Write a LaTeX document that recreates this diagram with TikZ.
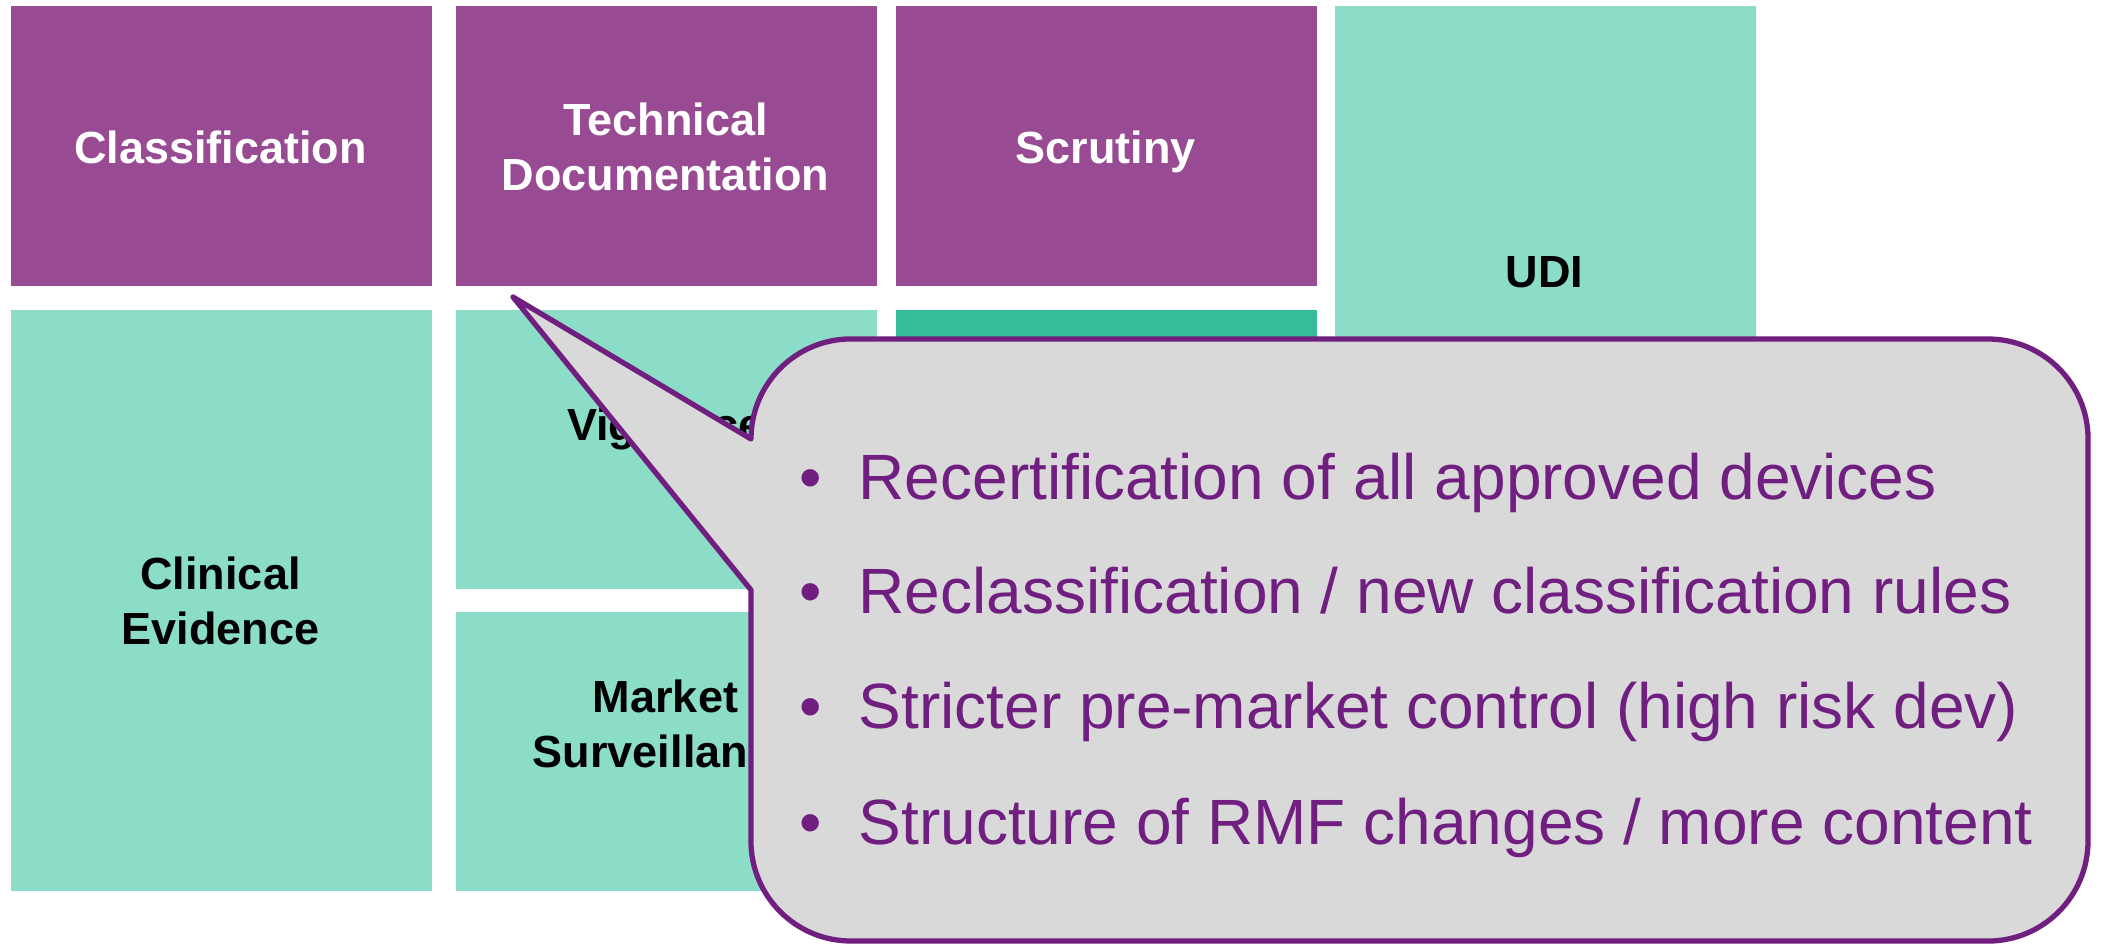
\documentclass[tikz,border=0pt]{standalone}
\usepackage{fontspec}
\setmainfont{Liberation Sans}
\definecolor{plum}{HTML}{984B93}
\definecolor{mint}{HTML}{8BDDC8}
\definecolor{jade}{HTML}{38BD9A}
\definecolor{bubblefill}{HTML}{D9D9D9}
\definecolor{bubbleline}{HTML}{701E80}
\tikzset{
  tile/.style={draw=none, inner sep=0pt, anchor=north west,
    minimum width=4.21cm},
  toptile/.style={tile, fill=plum, minimum height=2.80cm},
  lbl/.style={anchor=base, align=center, font=\fontsize{12.8}{15.4}\selectfont\bfseries, inner sep=0pt},
  whitelbl/.style={lbl, text=white},
  darklbl/.style={lbl, text=black},
  bubble/.style={draw=bubbleline, fill=bubblefill, line width=1.5pt, line join=round},
  itemtxt/.style={anchor=base west, inner sep=0pt, text=bubbleline, font=\fontsize{18.2}{21}\selectfont},
  itemdot/.style={anchor=base, inner sep=0pt, text=bubbleline, font=\fontsize{18.2}{21}\selectfont}
}
\begin{document}
\begin{tikzpicture}[x=0.01cm, y=0.01cm]
\useasboundingbox (0,0) rectangle (2102,944);
\fill[white] (0,0) rectangle (2102,944);

% top row
\node[toptile] (cls) at (10,939) {};
\node[toptile] (tech) at (455,939) {};
\node[toptile] (scr) at (895,939) {};
\node[tile, fill=mint, minimum height=5.35cm] (udi) at (1334,939) {};

% second row
\node[tile, fill=mint, minimum height=5.81cm] (clin) at (10,635) {};
\node[tile, fill=mint, minimum height=2.79cm] (vig) at (455,635) {};
\node[tile, fill=mint, minimum height=2.79cm] (mkt) at (455,333) {};
\node[tile, fill=jade, minimum height=5.81cm] (dark) at (895,635) {};

% labels (base anchor of a two-line label is its last line)
\node[whitelbl] (clsL) at (220.5,781) {Classification};
\node[whitelbl] (techL) at (665.5,754) {Technical\\Documentation};
\node[whitelbl] (scrL) at (1105.5,781) {Scrutiny};
\node[darklbl] (udiL) at (1544.5,657) {UDI};
\node[darklbl] (clinL) at (220.5,300) {Clinical\\Evidence};
\node[darklbl] (vigL) at (665.5,504) {Vigilance};
\node[darklbl] (mktL) at (665.5,177) {Market\\Surveillance};

% speech bubble
\draw[bubble] (751,505) arc[start angle=180, end angle=90, radius=1cm]
  -- (1988,605) arc[start angle=90, end angle=0, radius=1cm]
  -- (2088,103) arc[start angle=0, end angle=-90, radius=1cm]
  -- (851,3) arc[start angle=270, end angle=180, radius=1cm]
  -- (751,354) -- (513,647) -- cycle;

% bullet list
\node[itemdot] (d1) at (811,445) {\textbullet};
\node[itemtxt] (t1) at (858,445) {Recertification of all approved devices};
\node[itemdot] (d2) at (811,331) {\textbullet};
\node[itemtxt] (t2) at (858,331) {Reclassification / new classification rules};
\node[itemdot] (d3) at (811,216) {\textbullet};
\node[itemtxt] (t3) at (858,216) {Stricter pre-market control (high risk dev)};
\node[itemdot] (d4) at (811,100) {\textbullet};
\node[itemtxt] (t4) at (858,100) {Structure of RMF changes / more content};
\end{tikzpicture}
\end{document}
